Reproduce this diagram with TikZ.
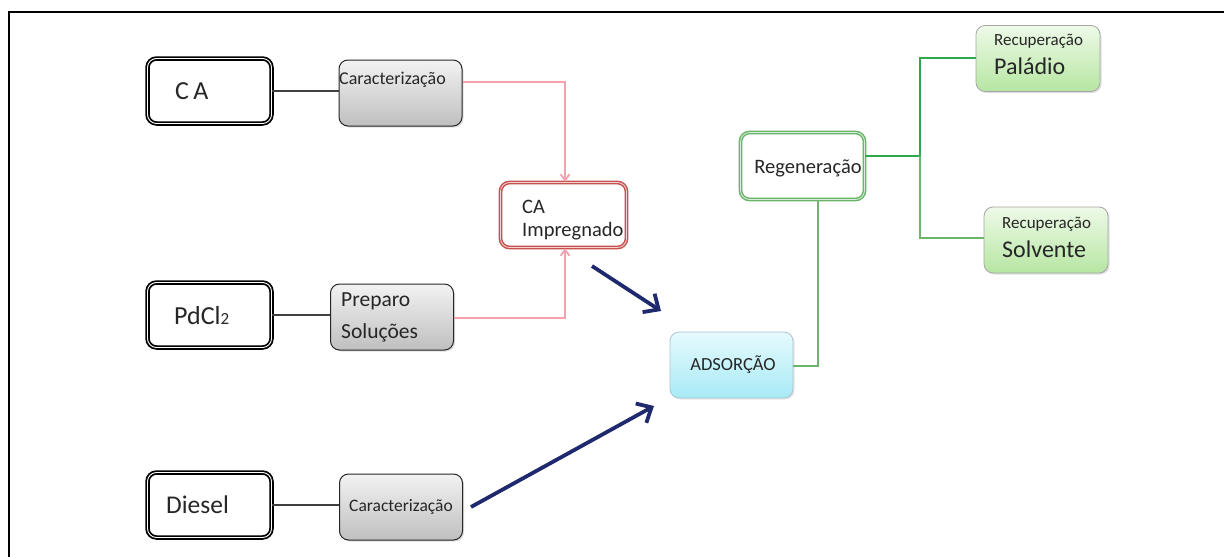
\documentclass[tikz,border=0pt]{standalone}
\usepackage{fontspec}
\setmainfont{Carlito}
\usetikzlibrary{arrows.meta,shadows,calc}
\definecolor{navyarrow}{HTML}{1F2A6E}
\definecolor{pinkline}{HTML}{F2A3AE}
\definecolor{redborder}{HTML}{C8504F}
\definecolor{greenborder}{HTML}{6BB56B}
\definecolor{greenline}{HTML}{2FA84F}
\definecolor{greenline2}{HTML}{6CB56C}
\definecolor{textgray}{HTML}{262626}
\definecolor{adstop}{HTML}{E6FAFD}
\definecolor{adsbot}{HTML}{A8EAF6}
\definecolor{rectop}{HTML}{EEFAE8}
\definecolor{recbot}{HTML}{B6E6A2}
\tikzset{
  srcbox/.style={draw=black, line width=1.8pt, double=white, double distance=0.9pt,
    fill=white, rounded corners=9pt, minimum width=124pt, minimum height=65pt,
    inner sep=0pt, text=textgray},
  graybox/.style={draw=black!85, line width=1pt, rounded corners=9pt,
    top color=gray!10, bottom color=gray!50, minimum width=123pt, minimum height=66pt,
    inner sep=0pt, text=textgray, drop shadow={shadow xshift=1.5pt, shadow yshift=-1.5pt, opacity=0.25}},
  impbox/.style={draw=redborder, line width=1.5pt, double=redborder!25, double distance=0.8pt,
    fill=white, rounded corners=9pt, minimum width=126pt, minimum height=65pt, inner sep=0pt, text=textgray},
  adsbox/.style={draw=cyan!30!gray!60, line width=0.8pt, rounded corners=9pt,
    top color=adstop, bottom color=adsbot, minimum width=123pt, minimum height=66pt,
    inner sep=0pt, text=textgray, drop shadow={shadow xshift=1.5pt, shadow yshift=-1.5pt, opacity=0.2}},
  regbox/.style={draw=greenborder, line width=1.5pt, double=greenborder!25, double distance=0.8pt,
    fill=white, rounded corners=9pt, minimum width=124pt, minimum height=67pt, inner sep=0pt, text=textgray},
  recbox/.style={draw=gray!70, line width=0.8pt, rounded corners=9pt,
    top color=rectop, bottom color=recbot, minimum width=124pt, minimum height=66pt,
    inner sep=0pt, text=textgray, drop shadow={shadow xshift=1.5pt, shadow yshift=-1.5pt, opacity=0.25}},
  lbl/.style={text=textgray, inner sep=0pt},
  blackline/.style={draw=black!75, line width=1.2pt},
  pinkarrow/.style={draw=pinkline, line width=1.8pt, -{Straight Barb[length=6pt,width=9pt]}},
  navyarr/.style={draw=navyarrow, line width=3.8pt, -{Straight Barb[length=12pt,width=22pt,line width=3.8pt]}},
  gline/.style={draw=greenline, line width=2.6pt},
  gline2/.style={draw=greenline2, line width=2.1pt},
}
\begin{document}
\begin{tikzpicture}[x=1pt,y=-1pt]
\useasboundingbox (0,0) rectangle (1224,557);
% frame
\coordinate (fTL) at (9,12);
\coordinate (fTR) at (1224,12);
\coordinate (fBL) at (9,557);
\draw[line width=2pt] (fTR) -- (fTL) -- (fBL);

% source boxes
\node[srcbox] (ca) at (209.5,91) {};
\node[lbl, anchor=west, font=\fontsize{26}{30}\selectfont] (cat) at (175,91) {C\,A};
\node[srcbox] (pd) at (209.5,315) {};
\node[lbl, anchor=west, font=\fontsize{26}{30}\selectfont] (pdt) at (174,316) {PdCl{\fontsize{17}{18}\selectfont 2}};
\node[srcbox] (di) at (209.5,505) {};
\node[lbl, anchor=west, font=\fontsize{25.5}{30}\selectfont] (dit) at (166,505) {Diesel};

% gray boxes
\node[graybox] (car1) at (400.5,93) {};
\node[lbl, anchor=west, font=\fontsize{18}{20}\selectfont] (car1t) at (339,80) {Caracterização};
\node[graybox] (prep) at (392,317) {};
\node[lbl, anchor=west, font=\fontsize{21.5}{24}\selectfont] (prept1) at (341,301) {Preparo};
\node[lbl, anchor=west, font=\fontsize{21.5}{24}\selectfont] (prept2) at (341,333) {Soluções};
\node[graybox] (car3) at (401,507) {};
\node[lbl, font=\fontsize{17.5}{20}\selectfont] (car3t) at (401,507) {Caracterização};

% CA Impregnado
\node[impbox] (imp) at (563.5,215) {};
\node[lbl, anchor=west, font=\fontsize{20.5}{24}\selectfont] (impt1) at (522,207) {CA};
\node[lbl, anchor=west, font=\fontsize{20.5}{24}\selectfont] (impt2) at (522,231) {Impregnado};

% ADSORCAO
\node[adsbox] (ads) at (731.5,365) {};
\node[lbl, font=\fontsize{18.5}{20}\selectfont] (adst) at (733,365) {ADSORÇÃO};

% Regeneracao
\node[regbox] (reg) at (802.5,166) {};
\node[lbl, font=\fontsize{20.5}{22}\selectfont] (regt) at (808,168) {Regeneração};

% Recuperacao
\node[recbox] (pal) at (1038,58.5) {};
\node[lbl, anchor=west, font=\fontsize{17}{19}\selectfont] (palt1) at (994,41) {Recuperação};
\node[lbl, anchor=west, font=\fontsize{24}{26}\selectfont] (palt2) at (994,66) {Paládio};
\node[recbox] (sol) at (1046,240) {};
\node[lbl, anchor=west, font=\fontsize{17}{19}\selectfont] (solt1) at (1002,224) {Recuperação};
\node[lbl, anchor=west, font=\fontsize{24}{26}\selectfont] (solt2) at (1002,249) {Solvente};

% black connectors
\draw[blackline] (ca.east) -- (car1.west |- ca.east);
\draw[blackline] (pd.east) -- (prep.west |- pd.east);
\draw[blackline] (di.east) -- (car3.west |- di.east);

% pink connectors
\coordinate (pk1) at (565,82);
\coordinate (pk2) at (565,318);
\draw[pinkarrow] (car1.east |- pk1) -- (pk1) -- (pk1 |- imp.north);
\draw[pinkarrow] (prep.east |- pk2) -- (pk2) -- (pk2 |- imp.south);

% navy arrows
\coordinate (nv1s) at (592,266);
\coordinate (nv1e) at (661,311);
\draw[navyarr] (nv1s) -- (nv1e);
\coordinate (nv2e) at (654,406);
\draw[navyarr] (car3.east |- 0,507) ++(8,0) -- (nv2e);

% green connectors
\coordinate (g1) at (818,366);
\draw[gline2] (ads.east |- g1) -- (g1) -- (g1 |- reg.south);
\coordinate (g2) at (920,156);
\coordinate (g3) at (920,58);
\coordinate (g4) at (920,238);
\draw[gline] (reg.east |- g2) -- (g2);
\draw[gline] (pal.west |- g3) -- (g3) -- (g2);
\draw[gline2] (g2) -- (g4) -- (sol.west |- g4);
\end{tikzpicture}
\end{document}
